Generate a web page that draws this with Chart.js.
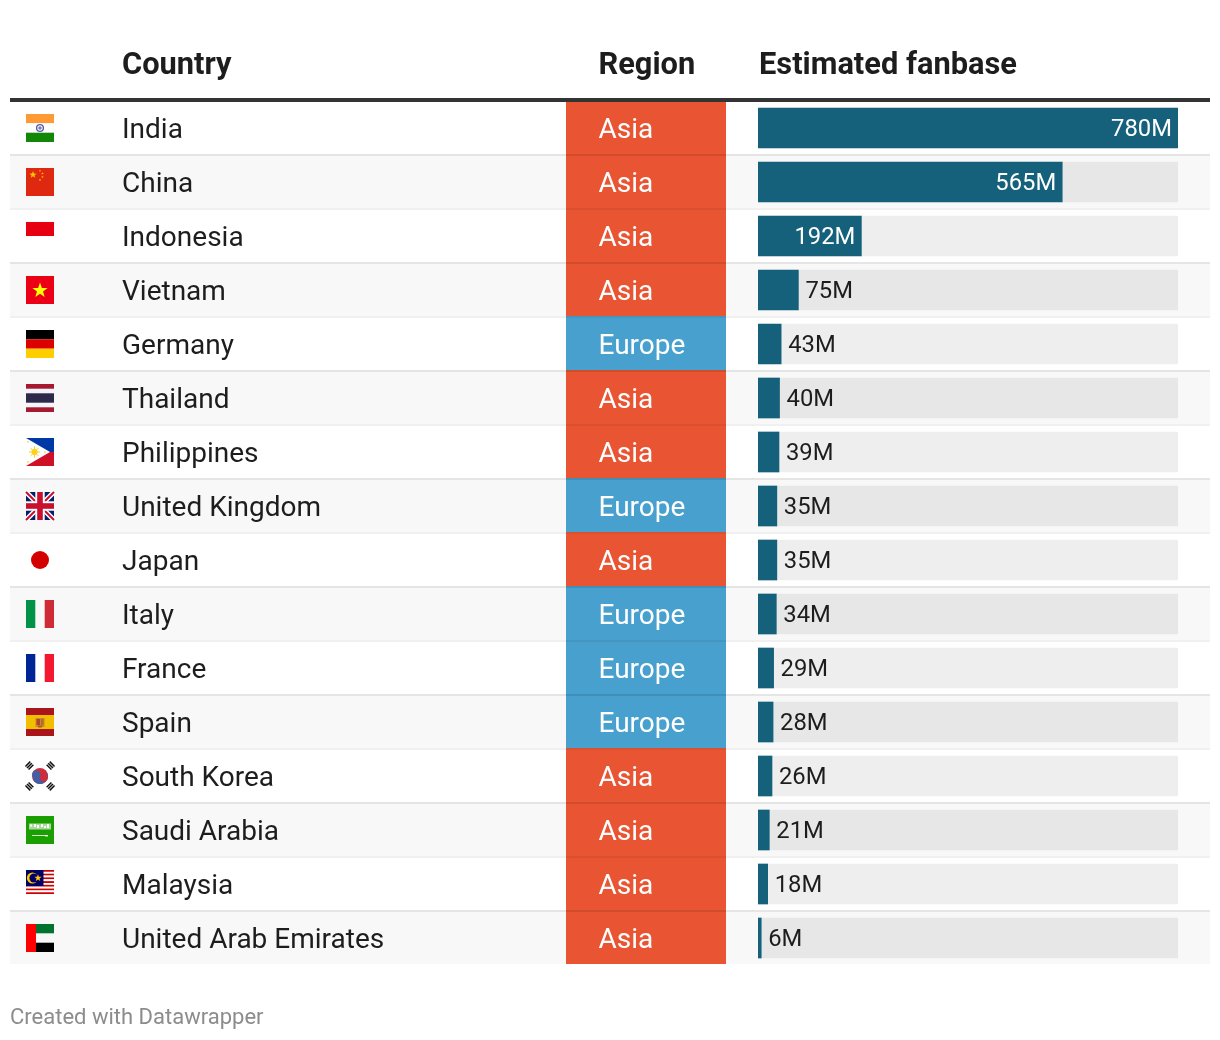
<!DOCTYPE html>
<html>
<head>
<meta charset="utf-8">
<title>Estimated fanbase by country</title>
<script src="https://cdn.jsdelivr.net/npm/chart.js@4"></script>
<style>
html,body{margin:0;padding:0;background:#fff;}
canvas{display:block;}
</style>
</head>
<body>
<canvas id="c" width="1220" height="1040"></canvas>
<script>
const countries = ["India","China","Indonesia","Vietnam","Germany","Thailand","Philippines","United Kingdom","Japan","Italy","France","Spain","South Korea","Saudi Arabia","Malaysia","United Arab Emirates"];
const regions = ["Asia","Asia","Asia","Asia","Europe","Asia","Asia","Europe","Asia","Europe","Europe","Europe","Asia","Asia","Asia","Asia"];
const fanbase = [780,565,192,75,43,40,39,35,35,34,29,28,26,21,18,6];
const fanbaseTrack = [780,780,780,780,780,780,780,780,780,780,780,780,780,780,780,780];
const headers = ["Country","Region","Estimated fanbase"];
const footer = "Created with Datawrapper";

const FONT = 'Roboto, "Liberation Sans", sans-serif';
const INK = '#1d1d1d';
const regionColors = {Asia:'#e95533', Europe:'#47a0cd'};

function star(ctx,cx,cy,r,rot){
  ctx.beginPath();
  for(let i=0;i<10;i++){
    const a=-Math.PI/2+(rot||0)+i*Math.PI/5, q=i%2?r*0.4:r;
    ctx.lineTo(cx+q*Math.cos(a),cy+q*Math.sin(a));
  }
  ctx.closePath();ctx.fill();
}
function bars(ctx,list){ list.forEach(b=>{ctx.fillStyle=b[4];ctx.fillRect(b[0],b[1],b[2],b[3]);}); }

const flags = {
  "India":c=>{bars(c,[[0,0,28,9.3,'#ff9933'],[0,9.3,28,9.4,'#fff'],[0,18.7,28,9.3,'#138808']]);
    c.strokeStyle='#5b5ea8';c.lineWidth=1.4;c.beginPath();c.arc(14,14,3.4,0,7);c.stroke();c.fillStyle='#7b7dc0';c.beginPath();c.arc(14,14,1.8,0,7);c.fill();},
  "China":c=>{bars(c,[[0,0,28,28,'#de2910']]);c.fillStyle='#ffc800';star(c,7,6.8,3.8);star(c,14,2.8,1.3);star(c,16.5,5.5,1.3);star(c,16.5,9,1.3);star(c,14,12,1.3);},
  "Indonesia":c=>{bars(c,[[0,0,28,14,'#e70011']]);},
  "Vietnam":c=>{bars(c,[[0,0,28,28,'#ec0015']]);c.fillStyle='#ffff00';star(c,14,14.5,8);},
  "Germany":c=>{bars(c,[[0,0,28,9.3,'#000'],[0,9.3,28,9.4,'#dd0000'],[0,18.7,28,9.3,'#ffce00']]);},
  "Thailand":c=>{bars(c,[[0,0,28,28,'#a51931'],[0,4.7,28,18.6,'#f4f5f8'],[0,9.3,28,9.4,'#2d2a4a']]);},
  "Philippines":c=>{bars(c,[[0,0,28,14,'#0038a8'],[0,14,28,14,'#ce1126']]);
    c.fillStyle='#fff';c.beginPath();c.moveTo(0,0);c.lineTo(24,14);c.lineTo(0,28);c.closePath();c.fill();
    c.fillStyle='#fcd116';c.beginPath();c.arc(8.5,14,3,0,7);c.fill();
    c.strokeStyle='#fcd116';c.lineWidth=1;for(let i=0;i<8;i++){const a=i*Math.PI/4;c.beginPath();c.moveTo(8.5,14);c.lineTo(8.5+5.5*Math.cos(a),14+5.5*Math.sin(a));c.stroke();}
    star(c,2,4,1.3);star(c,2,24,1.3);star(c,19,14,1.3);},
  "United Kingdom":c=>{bars(c,[[0,0,28,28,'#012169']]);
    c.strokeStyle='#fff';c.lineWidth=5;c.beginPath();c.moveTo(0,0);c.lineTo(28,28);c.moveTo(28,0);c.lineTo(0,28);c.stroke();
    c.strokeStyle='#c8102e';c.lineWidth=2;c.beginPath();c.moveTo(0,0);c.lineTo(28,28);c.moveTo(28,0);c.lineTo(0,28);c.stroke();
    bars(c,[[9.3,0,9.4,28,'#fff'],[0,9.3,28,9.4,'#fff'],[11.2,0,5.6,28,'#c8102e'],[0,11.2,28,5.6,'#c8102e']]);},
  "Japan":c=>{c.fillStyle='#d30000';c.beginPath();c.arc(14,14,9,0,7);c.fill();},
  "Italy":c=>{bars(c,[[0,0,9.3,28,'#009246'],[18.7,0,9.3,28,'#ce2b37']]);},
  "France":c=>{bars(c,[[0,0,9.3,28,'#002395'],[18.7,0,9.3,28,'#f31830']]);},
  "Spain":c=>{bars(c,[[0,0,28,7,'#aa151b'],[0,7,28,14,'#f1bf00'],[0,21,28,7,'#aa151b'],[9.5,10,9,9,'#c8892a'],[10.5,11,3.5,6,'#b8402e'],[15,11,2.5,6,'#a8702a'],[12,17.5,4,2,'#a85a30']]);},
  "South Korea":c=>{
    c.fillStyle='#cd2e3a';c.beginPath();c.arc(14,14,8,0,7);c.fill();
    c.fillStyle='#3f5fa8';c.beginPath();c.arc(14,14,8,-0.35,Math.PI-0.35);c.fill();
    c.beginPath();c.arc(10.2,12.6,4,0,7);c.fill();
    c.fillStyle='#cd2e3a';c.beginPath();c.arc(17.8,15.4,4,0,7);c.fill();
    c.strokeStyle='#111';c.lineWidth=1.5;
    [[3.4,3.6,-1],[24.6,3.6,1],[3.4,24.4,1],[24.6,24.4,-1]].forEach(t=>{
      c.save();c.translate(t[0],t[1]);c.rotate(t[2]*Math.PI/4);
      [-2.2,0,2.2].forEach(y=>{c.beginPath();c.moveTo(-3.4,y);c.lineTo(3.4,y);c.stroke();});
      c.restore();});},
  "Saudi Arabia":c=>{bars(c,[[0,0,28,28,'#1b9e00'],[3,7.5,22,6,'#a9d99e'],[4,8.5,2,2,'#fff'],[8,8,2,3,'#fff'],[11,9,2,3,'#fff'],[15,8,2,3,'#fff'],[18,10,2,2,'#fff'],[21,8,2,4,'#fff'],[6,19,16,1,'#cfe9c8'],[19,19.2,3,1.2,'#fff']]);},
  "Malaysia":c=>{
    for(let i=0;i<14;i++){bars(c,[[0,i*26/14,28,26/14,i%2?'#fff':'#cc0001']]);}
    bars(c,[[0,0,17.5,16,'#010066']]);
    c.fillStyle='#ffcc00';c.beginPath();c.arc(6.5,8,5.6,0,7);c.fill();
    c.fillStyle='#010066';c.beginPath();c.arc(8,8,4.6,0,7);c.fill();
    c.fillStyle='#ffcc00';star(c,12,8,3.8);},
  "United Arab Emirates":c=>{bars(c,[[0,0,10,28,'#ff0000'],[10,0,18,9.3,'#00732f'],[10,18.7,18,9.3,'#000']]);}
};

const tablePlugin = {
  id:'table',
  beforeDraw(chart){
    const {ctx,scales:{y}}=chart, L=10,R=1210;
    ctx.save();
    countries.forEach((name,i)=>{
      const t=y.getPixelForValue(i)-26;
      if(i%2===1){ctx.fillStyle='#f8f8f8';ctx.fillRect(L,t,R-L,52);}
      ctx.fillStyle=regionColors[regions[i]];ctx.fillRect(566,t-(i===0?0:2),160,54);
    });
    countries.forEach((name,i)=>{
      if(i===countries.length-1) return;
      const b=y.getPixelForValue(i)+26;
      ctx.fillStyle=i%2?'rgba(0,0,0,0.06)':'rgba(0,0,0,0.1)';
      ctx.fillRect(L,b,R-L,2);
    });
    ctx.fillStyle='#333';ctx.fillRect(L,98,R-L,4);
    countries.forEach((name,i)=>{
      ctx.save();ctx.translate(26,y.getPixelForValue(i)-14);
      flags[name](ctx);
      ctx.restore();
    });
    ctx.restore();
  },
  afterDraw(chart){
    const {ctx,scales:{x,y}}=chart;
    ctx.save();
    ctx.textBaseline='middle';ctx.textAlign='left';
    ctx.fillStyle=INK;ctx.font='700 30.8px '+FONT;
    [122,598.5,759].forEach((px,i)=>ctx.fillText(headers[i],px,66));
    ctx.font='28px '+FONT;
    regions.forEach((r,i)=>{ctx.fillStyle='#fff';ctx.fillText(r,598.5,y.getPixelForValue(i)+3);});
    const base=x.getPixelForValue(0);
    ctx.font='23.8px '+FONT;
    fanbase.forEach((v,i)=>{
      const end=x.getPixelForValue(v), label=v+'M', w=ctx.measureText(label).width, yy=y.getPixelForValue(i)+2.2;
      if(end-base>w+12){ctx.textAlign='right';ctx.fillStyle='#fff';ctx.fillText(label,end-6,yy);}
      else{ctx.textAlign='left';ctx.fillStyle=INK;ctx.fillText(label,end+7,yy);}
    });
    ctx.textAlign='left';ctx.fillStyle='#8c8c8c';ctx.font='22px '+FONT;
    ctx.fillText(footer,10,1018);
    ctx.restore();
  }
};

new Chart(document.getElementById('c'),{
  type:'bar',
  data:{
    labels:countries,
    datasets:[
      {label:'Estimated fanbase',data:fanbase,backgroundColor:'#15607a',barThickness:40,order:1},
      {label:'Track',data:fanbaseTrack,backgroundColor:'rgba(0,0,0,0.065)',barThickness:40,order:2}
    ]
  },
  plugins:[tablePlugin],
  options:{
    indexAxis:'y',
    responsive:false,
    animation:false,
    events:[],
    grouped:false,
    layout:{padding:{left:122,right:42,top:101,bottom:75}},
    plugins:{legend:{display:false},tooltip:{enabled:false},title:{display:false}},
    scales:{
      x:{type:'linear',min:0,max:780,display:false},
      y:{
        type:'category',
        grid:{display:false,drawTicks:false},
        border:{display:false},
        afterFit(s){s.width=636;},
        ticks:{crossAlign:'far',color:INK,padding:0,autoSkip:false,labelOffset:3,font:{family:FONT,size:28}}
      }
    }
  }
});
</script>
</body>
</html>
